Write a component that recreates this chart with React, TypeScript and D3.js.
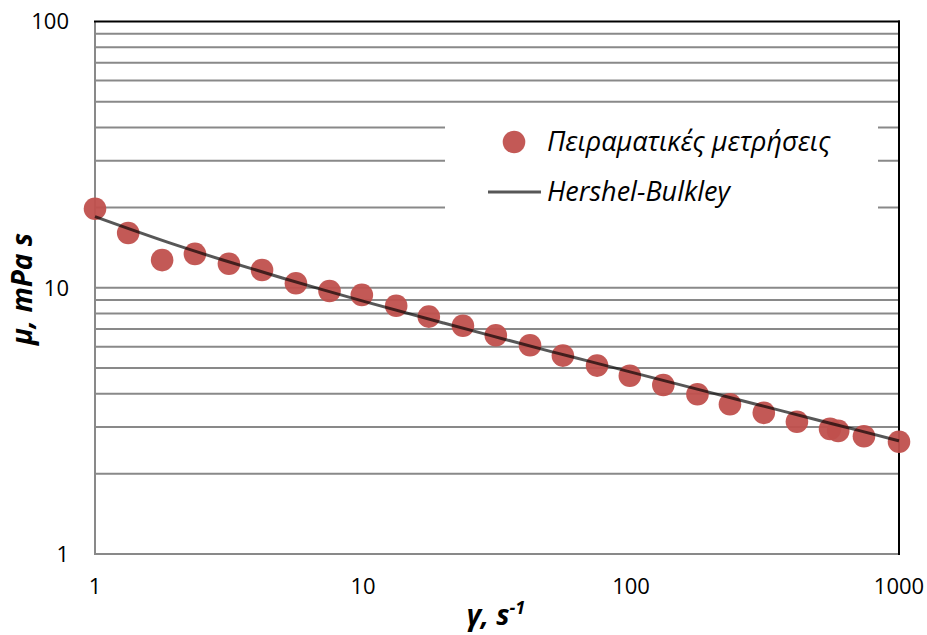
import React from "react";
import * as d3 from "d3";

const xTicks = [1, 10, 100, 1000];
const yTicks = [1, 10, 100];
const yGrid = [2, 3, 4, 5, 6, 7, 8, 9, 10, 20, 30, 40, 50, 60, 70, 80, 90];

// Experimental measurements (γ, μ)
const gammaData = [1, 1.33, 1.78, 2.36, 3.16, 4.2, 5.62, 7.5, 9.9, 13.3, 17.6, 23.6, 31.3, 42, 55.7, 74.7, 99, 132, 177, 234, 313, 416, 553, 593, 740, 1000];
const muData = [19.8, 16.05, 12.7, 13.4, 12.3, 11.66, 10.4, 9.72, 9.4, 8.56, 7.79, 7.2, 6.63, 6.08, 5.56, 5.1, 4.67, 4.31, 3.98, 3.65, 3.39, 3.14, 2.95, 2.9, 2.77, 2.64];

// Hershel-Bulkley curve
const fitGamma = [1, 2, 3, 5, 7, 10, 20, 30, 50, 70, 100, 200, 300, 500, 700, 1000];
const fitMu = [18.49, 14.48, 12.71, 10.88, 9.86, 8.91, 7.37, 6.61, 5.77, 5.29, 4.82, 4.03, 3.63, 3.18, 2.92, 2.66];

const legendLabels = ["Πειραματικές μετρήσεις", "Hershel-Bulkley"];

const W = 927;
const H = 635;
const L = 95, R = 899, T = 21.5, B = 554;
const FONT = "'Open Sans', 'Noto Sans', sans-serif";
const DOT = "#C0504D";
const GRID = "#898989";

export default function App() {
  const x = d3.scaleLog().domain([1, 1000]).range([L, R]);
  const y = d3.scaleLog().domain([1, 100]).range([B, T]);
  const pts = gammaData.map((g, i) => [g, muData[i]] as [number, number]);
  const fit = fitGamma.map((g, i) => [g, fitMu[i]] as [number, number]);
  const line = d3
    .line<[number, number]>()
    .x((d) => x(d[0]))
    .y((d) => y(d[1]))
    .curve(d3.curveMonotoneX);

  return (
    <svg
      width={W}
      height={H}
      style={{ position: "absolute", left: 0, top: 0, background: "#fff" }}
      fontFamily={FONT}
    >
      <rect x={0} y={0} width={W} height={H} fill="#fff" />
      {yGrid.map((v) => (
        <line key={v} x1={L} x2={R} y1={y(v)} y2={y(v)} stroke={GRID} strokeWidth={2} />
      ))}
      {/* legend background */}
      <rect x={445} y={108} width={433} height={114} fill="#fff" />
      {/* axes */}
      <line x1={L} x2={L} y1={T} y2={B + 1} stroke={GRID} strokeWidth={2} />
      <line x1={L - 1} x2={R} y1={B} y2={B} stroke={GRID} strokeWidth={2} />
      <line x1={L - 1} x2={R + 1} y1={T} y2={T} stroke="#000" strokeWidth={2} />
      <line x1={R} x2={R} y1={T - 1} y2={B + 1} stroke="#000" strokeWidth={2} />

      {/* points */}
      {pts.map((d, i) => (
        <circle key={i} cx={x(d[0])} cy={y(d[1])} r={11.3} fill={DOT} fillOpacity={0.95} />
      ))}
      {/* fit line */}
      <path d={line(fit) || ""} fill="none" stroke="#000" strokeOpacity={0.66} strokeWidth={3} />

      {/* y tick labels */}
      {yTicks.map((v) => (
        <text key={v} x={69} y={y(v)} dy="0.36em" textAnchor="end" fontSize={22} fill="#000">
          {v}
        </text>
      ))}
      {/* x tick labels */}
      {xTicks.map((v) => (
        <text key={v} x={x(v)} y={594} textAnchor="middle" fontSize={22} fill="#000">
          {v}
        </text>
      ))}

      {/* axis titles */}
      <text x={496} y={625} textAnchor="middle" fontSize={28} fontWeight="bold" fontStyle="italic">
        γ, s<tspan dy={-11} fontSize={18}>-1</tspan>
      </text>
      <text
        transform={`translate(32,289) rotate(-90)`}
        textAnchor="middle"
        fontSize={28}
        fontWeight="bold"
        fontStyle="italic"
      >
        μ, mPa s
      </text>

      {/* legend */}
      <circle cx={514} cy={142} r={11.3} fill={DOT} fillOpacity={0.95} />
      <text x={547} y={151} fontSize={27} fontStyle="italic">
        {legendLabels[0]}
      </text>
      <line x1={488} x2={541} y1={192} y2={192} stroke="#000" strokeOpacity={0.66} strokeWidth={3} />
      <text x={547} y={201} fontSize={27} fontStyle="italic">
        {legendLabels[1]}
      </text>
    </svg>
  );
}
